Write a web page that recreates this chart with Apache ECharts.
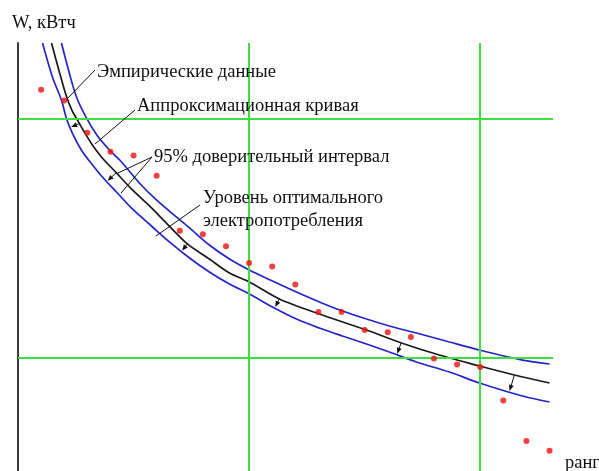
<!DOCTYPE html>
<html>
<head>
<meta charset="utf-8">
<script src="https://cdn.jsdelivr.net/npm/echarts@6/dist/echarts.min.js"></script>
<style>
  html, body { margin: 0; padding: 0; background: #fff; }
  #chart { width: 599px; height: 471px; }
</style>
</head>
<body>
<div id="chart"></div>
<script>
// Ranks of the observed objects and their consumption, W (kWh)
const ranks = [1, 2, 3, 4, 5, 6, 7, 8, 9, 10, 11, 12, 13, 14, 15, 16, 17, 18, 19, 20, 21, 22, 23];
const empirical = [324, 315, 288, 272, 269, 252, 206, 203, 193, 179, 176, 161, 138, 138, 123, 121, 117, 99, 94, 92, 64, 30, 22];

// Approximation curve, [rank, W]
const approxCurve = [
  [1.45, 363.0], [1.79, 338.8], [2.09, 318.7], [2.35, 306.1], [2.57, 298.6], [2.87, 288.6],
  [3.22, 277.7], [3.61, 267.7], [4.26, 254.3], [4.95, 240.1], [5.69, 226.7], [6.42, 212.4],
  [7.33, 194.9], [8.28, 182.3], [9.15, 170.6], [10.01, 163.1], [11.31, 148.9], [13.04, 136.3],
  [15.08, 122.9], [16.59, 112.1], [18.23, 102.0], [19.97, 92.8], [21.48, 85.3], [23.0, 78.6]
];

// Upper bound of the 95% confidence interval, [rank, W]
const upperBound = [
  [1.88, 363.0], [2.22, 337.9], [2.53, 317.8], [2.96, 300.3], [3.44, 285.2], [3.96, 273.5],
  [4.48, 263.5], [5.25, 245.9], [5.99, 231.7], [6.85, 217.5], [7.42, 208.3], [8.28, 194.0],
  [9.15, 182.3], [10.01, 173.1], [11.01, 163.9], [12.05, 154.7], [13.04, 146.4], [14.04, 138.8],
  [15.08, 132.1], [16.07, 126.3], [17.24, 120.4], [18.67, 112.9], [19.97, 106.2], [21.83, 97.8],
  [23.0, 94.5]
];

// Lower bound of the 95% confidence interval, [rank, W]
const lowerBound = [
  [1.06, 363.0], [1.49, 334.6], [1.88, 315.3], [2.09, 300.3], [2.35, 287.7], [2.74, 273.5],
  [3.09, 264.3], [3.65, 250.9], [4.26, 238.4], [4.95, 224.2], [5.82, 209.1], [6.55, 196.6],
  [7.42, 183.2], [8.28, 171.5], [9.15, 161.4], [10.01, 153.1], [11.01, 142.2], [12.05, 132.1],
  [13.04, 124.6], [14.04, 117.9], [15.08, 111.2], [16.07, 104.5], [17.24, 96.2], [18.67, 87.8],
  [19.97, 78.6], [21.83, 67.7], [23.0, 62.7]
];

// Ranks where the arrows down to the optimal consumption level start
const levelArrowRanks = [2.66, 4.25, 7.33, 11.31, 16.58, 21.48];

// Reference grid lines
const gridRanks = [10, 20];
const gridLevels = [100, 300];

const FONT = "'Liberation Serif', 'Times New Roman', serif";
const FONT_SIZE = 18.5;
const INK = '#111111';
const BLUE = '#2424c8';

const chart = echarts.init(document.getElementById('chart'), null, { renderer: 'canvas' });

chart.setOption({
  animation: false,
  backgroundColor: '#ffffff',
  grid: { left: 18, right: 46, top: 43, bottom: 0, containLabel: false },
  xAxis: {
    type: 'value', min: 0, max: 23.15,
    axisLine: { show: false }, axisTick: { show: false },
    axisLabel: { show: false }, splitLine: { show: false }
  },
  yAxis: {
    type: 'value', min: 5, max: 363,
    axisLine: { show: true, onZero: false, lineStyle: { color: '#3a3a3a', width: 2 } },
    axisTick: { show: false }, axisLabel: { show: false }, splitLine: { show: false }
  },
  series: [
    {
      name: 'grid', type: 'line', data: [], z: 1, silent: true,
      markLine: {
        silent: true, symbol: ['none', 'none'], animation: false,
        label: { show: false },
        lineStyle: { color: '#3be03b', width: 2, type: 'solid' },
        emphasis: { disabled: true },
        data: [
          ...gridRanks.map(v => ({ xAxis: v })),
          ...gridLevels.map(v => ({ yAxis: v }))
        ]
      }
    },
    {
      name: 'upper', type: 'line', data: upperBound, smooth: 0.3, showSymbol: false, z: 2,
      lineStyle: { color: BLUE, width: 1.7 }
    },
    {
      name: 'lower', type: 'line', data: lowerBound, smooth: 0.3, showSymbol: false, z: 2,
      lineStyle: { color: BLUE, width: 1.7 }
    },
    {
      name: 'approx', type: 'line', data: approxCurve, smooth: 0.3, showSymbol: false, z: 3,
      lineStyle: { color: '#1a1a1a', width: 1.7 }
    },
    {
      name: 'empirical', type: 'scatter', z: 5,
      data: ranks.map((r, i) => [r, empirical[i]]),
      symbolSize: 6,
      itemStyle: { color: '#f01010' }
    }
  ]
});

// ---- annotations ----
const toPx = p => chart.convertToPixel({ gridIndex: 0 }, p);
const approxPx = approxCurve.map(toPx);
const lowerPx = lowerBound.map(toPx);

function yOnPolyline(poly, x) {
  for (let i = 0; i < poly.length - 1; i++) {
    const a = poly[i], b = poly[i + 1];
    if (x >= a[0] && x <= b[0]) {
      const t = (x - a[0]) / (b[0] - a[0]);
      return a[1] + t * (b[1] - a[1]);
    }
  }
  return poly[poly.length - 1][1];
}

function nearestOnPolyline(poly, p) {
  let best = null, bestD = Infinity;
  for (let i = 0; i < poly.length - 1; i++) {
    const a = poly[i], b = poly[i + 1];
    const dx = b[0] - a[0], dy = b[1] - a[1];
    let t = ((p[0] - a[0]) * dx + (p[1] - a[1]) * dy) / (dx * dx + dy * dy);
    t = Math.max(0, Math.min(1, t));
    const q = [a[0] + t * dx, a[1] + t * dy];
    const d = Math.hypot(q[0] - p[0], q[1] - p[1]);
    if (d < bestD) { bestD = d; best = q; }
  }
  return best;
}

const graphics = [];

levelArrowRanks.forEach(r => {
  const x = toPx([r, 100])[0];
  const start = [x, yOnPolyline(approxPx, x)];
  const end = nearestOnPolyline(lowerPx, start);
  const len = Math.hypot(end[0] - start[0], end[1] - start[1]);
  const d = [(end[0] - start[0]) / len, (end[1] - start[1]) / len];
  const n = [-d[1], d[0]];
  const tip = [end[0] - d[0] * 1.2, end[1] - d[1] * 1.2];
  const base = [tip[0] - d[0] * 6, tip[1] - d[1] * 6];
  graphics.push({
    type: 'line', silent: true, z: 10,
    shape: { x1: start[0], y1: start[1], x2: base[0], y2: base[1] },
    style: { stroke: INK, lineWidth: 1 }
  });
  graphics.push({
    type: 'polygon', silent: true, z: 10,
    shape: { points: [tip, [base[0] + n[0] * 2.5, base[1] + n[1] * 2.5], [base[0] - n[0] * 2.5, base[1] - n[1] * 2.5]] },
    style: { fill: INK }
  });
});

// Leader lines from the captions to the marks they describe
const leaders = [
  [[95, 70], [68, 98]],
  [[135, 110], [95, 144]],
  [[152, 157], [118, 173]],
  [[152, 157], [121, 193]],
  [[200, 205], [156, 236]]
];
leaders.forEach(([a, b]) => {
  graphics.push({
    type: 'line', silent: true, z: 10,
    shape: { x1: a[0], y1: a[1], x2: b[0], y2: b[1] },
    style: { stroke: INK, lineWidth: 1 }
  });
});

const labels = [
  ['W, кВтч', 12, 23],
  ['Эмпирические данные', 97, 72],
  ['Аппроксимационная кривая', 137, 106],
  ['95% доверительный интервал', 154, 157],
  ['Уровень оптимального', 203, 198],
  ['электропотребления', 203, 221],
  ['ранг', 565, 463]
];
labels.forEach(([text, x, y]) => {
  graphics.push({
    type: 'text', silent: true, z: 11, x: x, y: y,
    style: { text: text, fontFamily: FONT, fontSize: FONT_SIZE, fill: INK, align: 'left', verticalAlign: 'middle' }
  });
});

chart.setOption({ graphic: graphics });
</script>
</body>
</html>
